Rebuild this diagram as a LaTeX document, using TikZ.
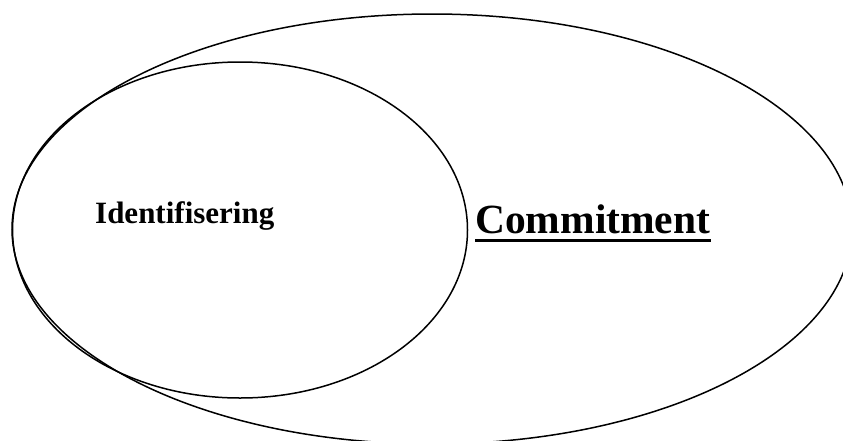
\documentclass[tikz,border=0pt]{standalone}
\usepackage{fontspec}
\setmainfont{Liberation Serif}
\usetikzlibrary{shapes.geometric}
\begin{document}
\begin{tikzpicture}[x=1pt,y=-1pt,
  ring/.style={ellipse,draw=black,line width=1.5pt,inner sep=0pt},
  label/.style={inner sep=0pt,anchor=base west,font=\bfseries}]
  \useasboundingbox (0,0) rectangle (843,440);
  \clip (0,0) rectangle (843,440);
  % outer set and the nested inner set
  \node[ring,minimum width=840pt,minimum height=430pt] (commit) at (432,229) {};
  \node[ring,minimum width=455pt,minimum height=336pt] (ident) at (240,230) {};
  % labels
  \node[label,font=\bfseries\fontsize{31}{36}\selectfont] (identlbl) at (95,223) {Identifisering};
  \node[label,font=\bfseries\fontsize{41.5}{48}\selectfont] (commitlbl) at (475,233) {Commitment};
  \draw[line width=3pt] ([yshift=-7pt]commitlbl.base west) -- ([yshift=-7pt]commitlbl.base east);
\end{tikzpicture}
\end{document}
